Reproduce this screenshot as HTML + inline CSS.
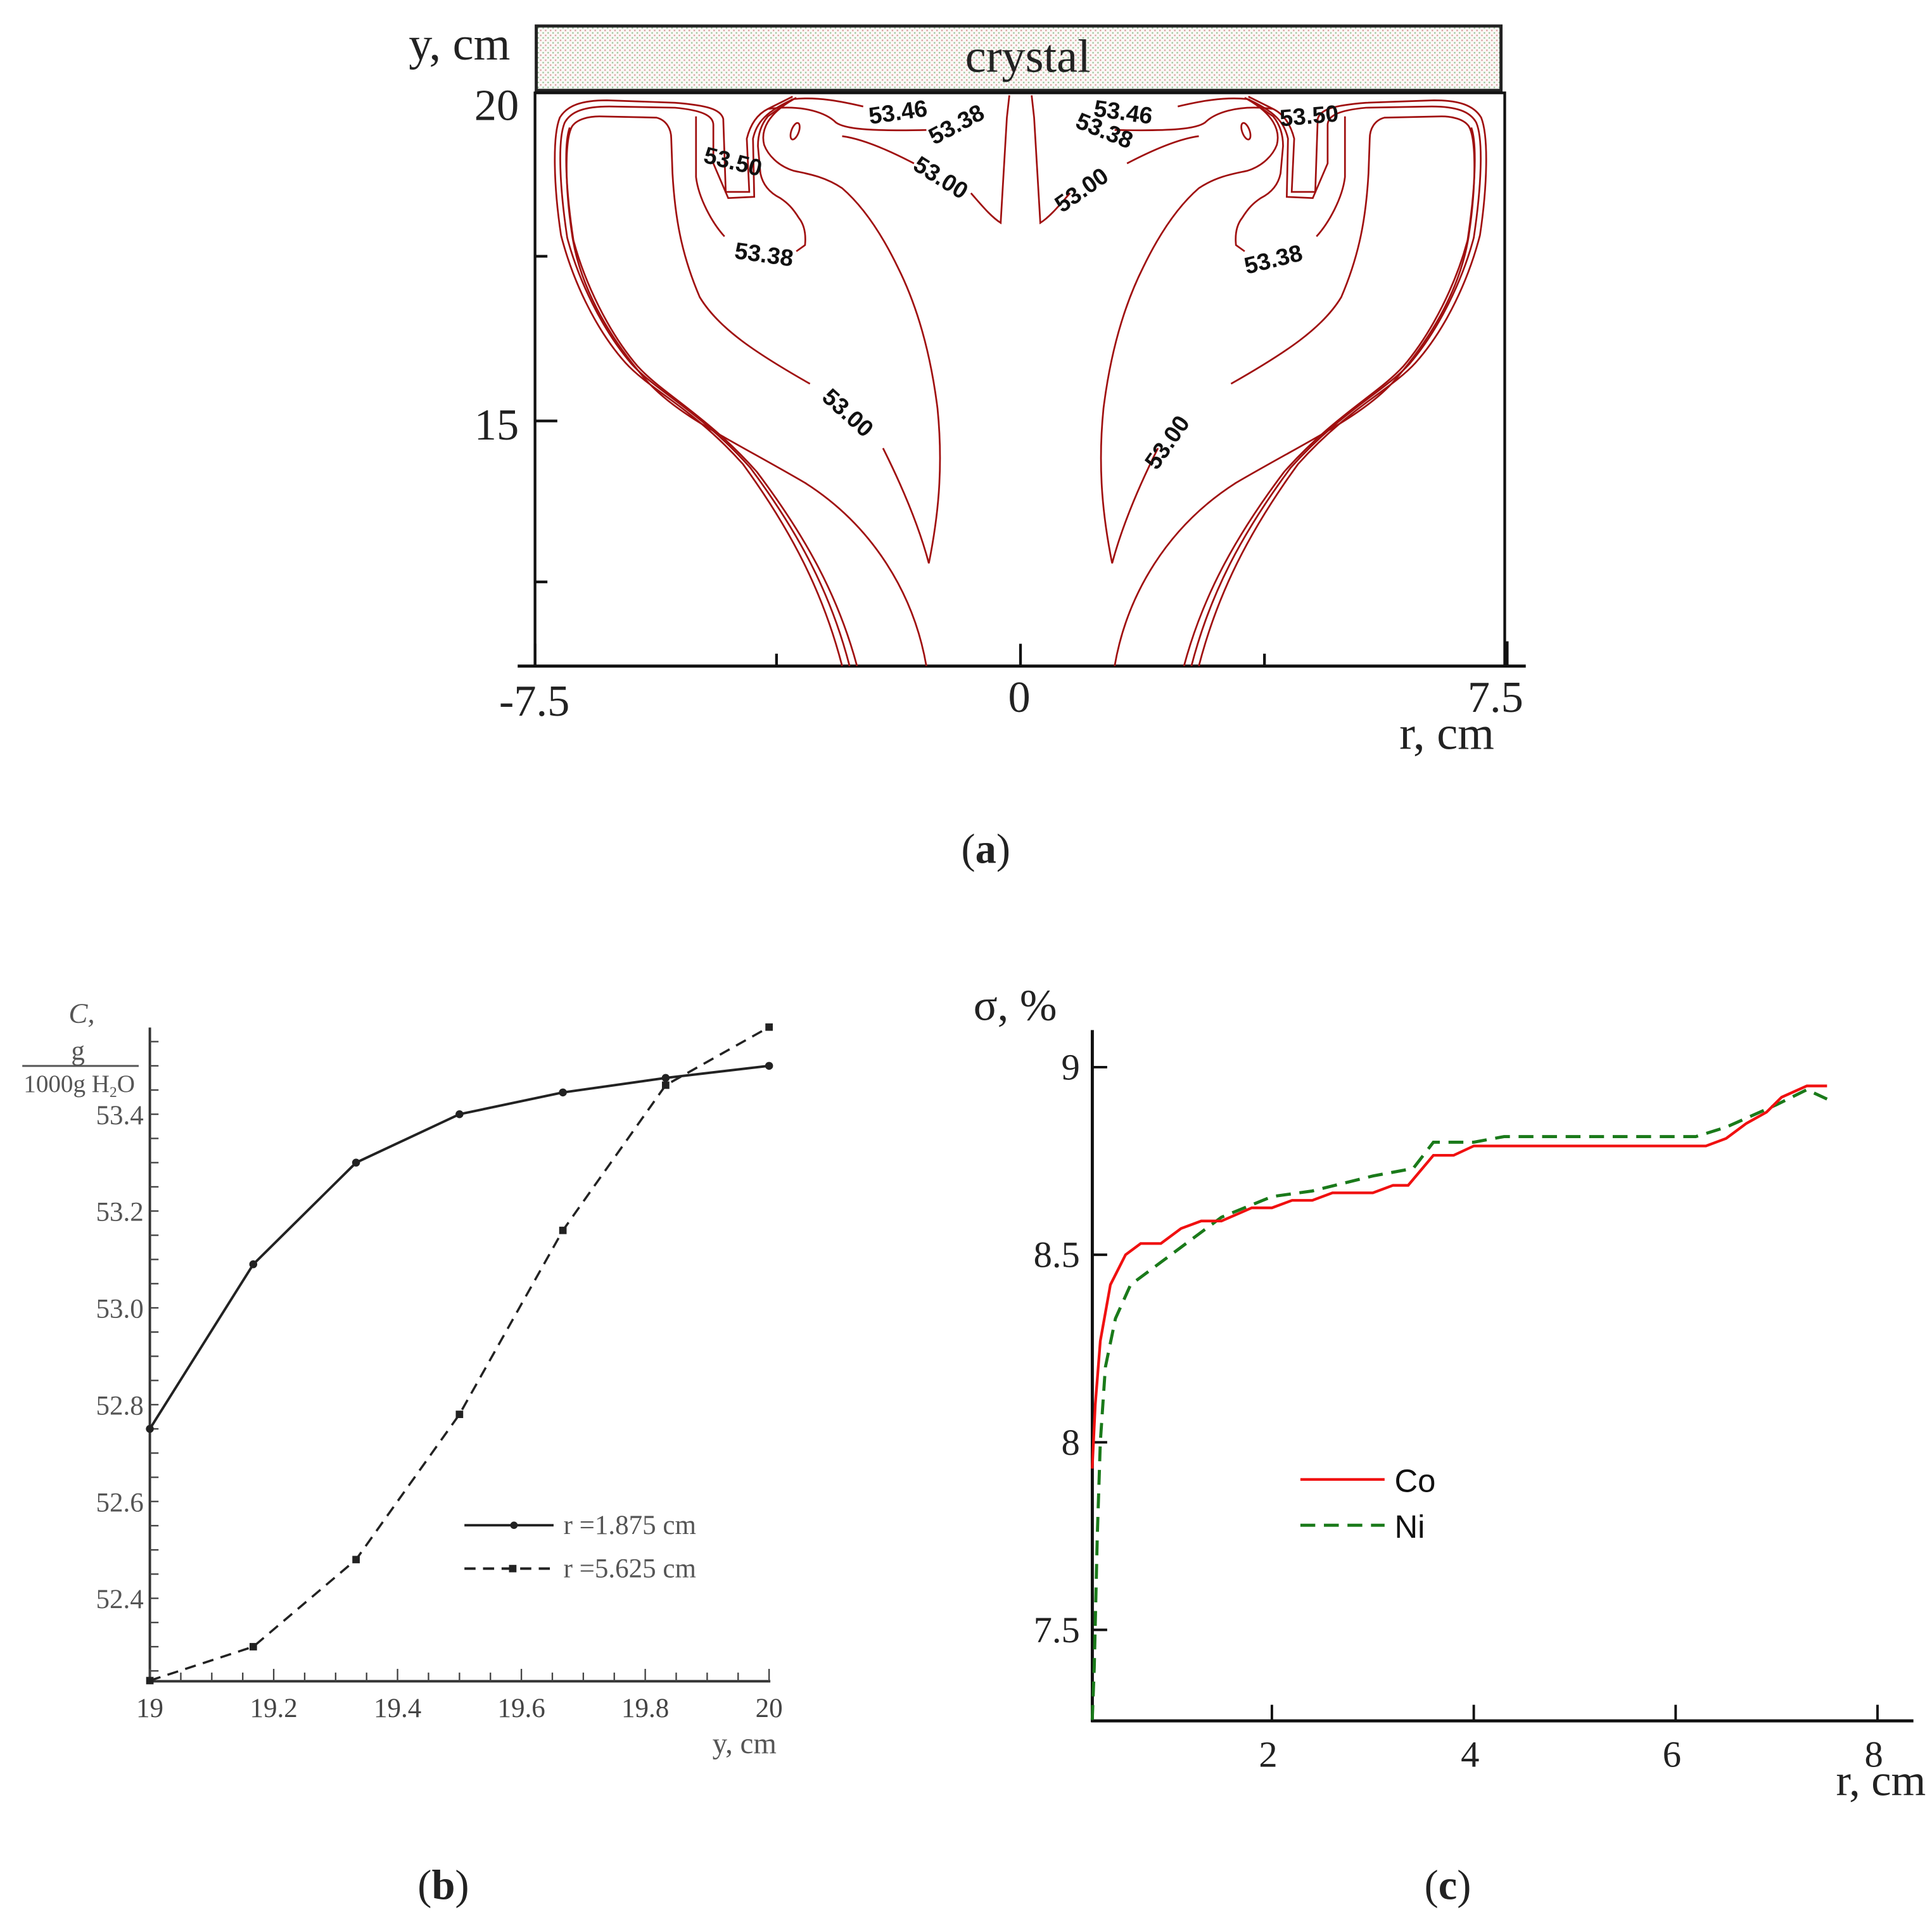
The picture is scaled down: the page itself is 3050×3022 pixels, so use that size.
<!DOCTYPE html>
<html><head><meta charset="utf-8"><style>
html,body{margin:0;padding:0;background:#fff;}
svg{display:block;}
.ser{font-family:"Liberation Serif",serif;}
.san{font-family:"Liberation Sans",sans-serif;}
.ct{fill:none;stroke:#a01010;stroke-width:1.4;}
.lbl{font-family:"Liberation Sans",sans-serif;font-size:19px;font-weight:bold;fill:#111;}
</style></head><body>
<svg id="fig" xmlns="http://www.w3.org/2000/svg" width="3050" height="3022" viewBox="0 0 1560 1546" preserveAspectRatio="none">
<defs>
<pattern id="dots" width="4" height="4" patternUnits="userSpaceOnUse">
<rect width="4" height="4" fill="#fbf8f6"/>
<rect x="0" y="0" width="1.2" height="1.2" fill="#d9a0a0"/>
<rect x="2" y="2" width="1.2" height="1.2" fill="#9cc79c"/>
</pattern>
</defs>

<!-- Panel a -->
<g>
<rect x="433" y="21" width="779" height="52" fill="url(#dots)" stroke="#222" stroke-width="2.5"/>
<text x="830" y="58" class="ser" font-size="38" text-anchor="middle" fill="#222">crystal</text>
<rect x="432" y="75" width="783" height="463" fill="none" stroke="#111" stroke-width="2.2"/>
<line x1="418" y1="538" x2="1232" y2="538" stroke="#111" stroke-width="2.5"/>
<g stroke="#111" stroke-width="2.2">
<line x1="432" y1="520" x2="432" y2="538"/><line x1="627" y1="528" x2="627" y2="538"/>
<line x1="824" y1="520" x2="824" y2="538"/><line x1="1021" y1="528" x2="1021" y2="538"/>
<line x1="1217" y1="518" x2="1217" y2="538"/>
<line x1="432" y1="340" x2="450" y2="340"/><line x1="432" y1="207" x2="442" y2="207"/><line x1="432" y1="470" x2="442" y2="470"/>
</g>
<text x="330" y="48" class="ser" font-size="38" fill="#222">y, cm</text>
<text x="383" y="97" class="ser" font-size="36" fill="#222">20</text>
<text x="383" y="355" class="ser" font-size="36" fill="#222">15</text>
<text x="403" y="578" class="ser" font-size="36" fill="#222">-7.5</text>
<text x="814" y="575" class="ser" font-size="36" fill="#222">0</text>
<text x="1185" y="575" class="ser" font-size="36" fill="#222">7.5</text>
<text x="1130" y="605" class="ser" font-size="38" fill="#222">r, cm</text>

<g id="cl">
<path class="ct" d="M680,538 C665,480 640,430 600,375 C560,330 525,315 505,293 C480,265 462,225 453,190 C447,150 446,110 452,95 C458,85 470,81 490,81 L545,83 C570,85 582,88 584,96 L586,155 L605,155 L603,112 C606,100 612,92 620,88 L640,78"/>
<path class="ct" d="M686,538 C671,480 646,432 606,378 C566,333 530,316 510,294 C486,266 467,226 458,192 C452,152 450,113 456,99 C461,90 472,86 492,86 L545,87 C566,89 576,93 576,101 L576,132 L588,160 L609,159 L608,112 C611,99 618,90 643,79"/>
<path class="ct" d="M692,538 C677,482 651,434 611,381 C571,336 535,318 515,296 C491,268 472,228 463,194 C457,154 455,117 460,103"/>
<path class="ct" d="M748,538 C738,480 705,425 650,390 C590,355 545,335 520,305 C490,270 468,230 462,190 C456,150 456,112 462,102 C466,96 476,94 484,94 L530,95 C538,97 542,104 542,112 L543,140 C545,175 550,205 565,240 C580,265 610,285 654,310 M713,362 C728,392 742,425 750,455 C757,420 762,380 757,330 C752,290 742,250 725,216 C710,185 695,165 680,152 C665,142 650,140 641,138 C628,134 620,125 617,117 C614,105 620,92 641,80"/>
<path class="ct" d="M562,94 L562,143 C564,160 575,180 585,191 M643,203 L650,198 C651,188 649,181 645,176 C640,168 636,164 630,160 C622,156 616,150 614,140 L612,118 C612,108 615,100 620,94 L640,80"/>
<ellipse class="ct" cx="642" cy="106" rx="3" ry="7" transform="rotate(20 642 106)"/>
<path class="ct" d="M641,80 C660,78 680,82 697,86 M620,88 C650,84 668,92 675,99 C682,104 700,106 748,105 M680,110 C695,112 715,120 738,132 M784,156 C792,165 800,175 808,180 L813,95 L815,77"/>
</g>
<use href="#cl" transform="translate(1648,0) scale(-1,1)"/>

<g>
<text class="lbl" x="725" y="97" text-anchor="middle" transform="rotate(-8 725 90)">53.46</text>
<text class="lbl" x="772" y="107" text-anchor="middle" transform="rotate(-28 772 100)">53.38</text>
<text class="lbl" x="760" y="150" text-anchor="middle" transform="rotate(32 760 143)">53.00</text>
<text class="lbl" x="592" y="137" text-anchor="middle" transform="rotate(14 592 130)">53.50</text>
<text class="lbl" x="617" y="212" text-anchor="middle" transform="rotate(8 617 205)">53.38</text>
<text class="lbl" x="685" y="340" text-anchor="middle" transform="rotate(42 685 333)">53.00</text>
<text class="lbl" x="907" y="97" text-anchor="middle" transform="rotate(8 907 90)">53.46</text>
<text class="lbl" x="892" y="112" text-anchor="middle" transform="rotate(22 892 105)">53.38</text>
<text class="lbl" x="873" y="160" text-anchor="middle" transform="rotate(-35 873 153)">53.00</text>
<text class="lbl" x="1057" y="100" text-anchor="middle" transform="rotate(-5 1057 93)">53.50</text>
<text class="lbl" x="1028" y="216" text-anchor="middle" transform="rotate(-14 1028 209)">53.38</text>
<text class="lbl" x="942" y="364" text-anchor="middle" transform="rotate(-55 942 357)">53.00</text>
</g>
<text x="796" y="697" class="ser" font-size="34" text-anchor="middle" fill="#222">(<tspan font-weight="bold">a</tspan>)</text>
</g>

<!-- Panel b -->
<g id="pb">
<line x1="121" y1="830" x2="121" y2="1358" stroke="#333" stroke-width="2"/>
<line x1="121" y1="1358" x2="622" y2="1358" stroke="#333" stroke-width="2"/>
<text x="66" y="826" class="ser" font-size="23" font-style="italic" text-anchor="middle" fill="#555">C,</text>
<text x="63" y="856" class="ser" font-size="22" text-anchor="middle" fill="#555">g</text>
<line x1="18" y1="861" x2="112" y2="861" stroke="#555" stroke-width="1.5"/>
<text x="64" y="882" class="ser" font-size="20" text-anchor="middle" fill="#555">1000g H<tspan font-size="12" dy="4">2</tspan><tspan dy="-4">O</tspan></text>
<text x="627" y="1416" class="ser" font-size="24" text-anchor="end" fill="#555">y, cm</text>
<line x1="375" y1="1232" x2="447" y2="1232" stroke="#222" stroke-width="2"/>
<circle cx="415" cy="1232" r="3" fill="#222"/>
<text x="455" y="1239" class="ser" font-size="22" fill="#555">r =1.875 cm</text>
<line x1="375" y1="1267" x2="447" y2="1267" stroke="#222" stroke-width="2" stroke-dasharray="9,6"/>
<rect x="411" y="1264" width="6" height="6" fill="#222"/>
<text x="455" y="1274" class="ser" font-size="22" fill="#555">r =5.625 cm</text>
<text x="358" y="1534" class="ser" font-size="34" text-anchor="middle" fill="#222">(<tspan font-weight="bold">b</tspan>)</text>
</g>

<!-- Panel c -->
<g id="pc">
<line x1="882" y1="832" x2="882" y2="1391" stroke="#111" stroke-width="2.5"/>
<line x1="881" y1="1390" x2="1545" y2="1390" stroke="#111" stroke-width="2.5"/>
<text x="786" y="824" class="ser" font-size="36" fill="#222">σ, %</text>
<text x="1555" y="1450" class="ser" font-size="36" text-anchor="end" fill="#222">r, cm</text>
<line x1="1050" y1="1195" x2="1118" y2="1195" stroke="#f01010" stroke-width="2.2"/>
<text x="1126" y="1205" class="san" font-size="26" fill="#111">Co</text>
<line x1="1050" y1="1232" x2="1118" y2="1232" stroke="#1a7a1a" stroke-width="2.5" stroke-dasharray="12,7"/>
<text x="1126" y="1242" class="san" font-size="26" fill="#111">Ni</text>
<text x="1169" y="1534" class="ser" font-size="34" text-anchor="middle" fill="#222">(<tspan font-weight="bold">c</tspan>)</text>
</g>
</svg>
<script>
// ---- Panel b data ----
const bY = [19, 19.167, 19.333, 19.5, 19.667, 19.833, 20];
const bR1875 = [52.75, 53.09, 53.30, 53.40, 53.445, 53.475, 53.50];
const bR5625 = [52.23, 52.30, 52.48, 52.78, 53.16, 53.46, 53.58];
const bXTicks = [19, 19.2, 19.4, 19.6, 19.8, 20];
const bXTickLabels = ["19", "19.2", "19.4", "19.6", "19.8", "20"];
const bYTicks = [52.4, 52.6, 52.8, 53.0, 53.2, 53.4];
const bYTickLabels = ["52.4", "52.6", "52.8", "53.0", "53.2", "53.4"];
// ---- Panel c data ----
const cCoR = [0.22,0.25,0.3,0.4,0.55,0.7,0.9,1.1,1.3,1.5,1.8,2.0,2.2,2.4,2.6,3.0,3.2,3.35,3.6,3.8,4.0,6.3,6.5,6.7,6.9,7.05,7.3,7.5];
const cCoS = [7.93,8.1,8.27,8.42,8.5,8.53,8.53,8.57,8.59,8.59,8.625,8.625,8.645,8.645,8.665,8.665,8.685,8.685,8.765,8.765,8.79,8.79,8.81,8.85,8.88,8.92,8.95,8.95];
const cNiR = [0.22,0.24,0.27,0.3,0.35,0.45,0.6,0.9,1.2,1.5,2.0,2.4,3.0,3.4,3.6,4.0,4.3,6.2,6.5,7.0,7.3,7.5];
const cNiS = [7.26,7.4,7.75,8.0,8.2,8.33,8.42,8.48,8.54,8.6,8.655,8.67,8.71,8.73,8.8,8.8,8.815,8.815,8.84,8.9,8.94,8.915];
const cXTicks = [2, 4, 6, 8];
const cXTickLabels = ["2", "4", "6", "8"];
const cYTicks = [7.5, 8, 8.5, 9];
const cYTickLabels = ["7.5", "8", "8.5", "9"];

const NS = "http://www.w3.org/2000/svg";
function mk(tag, attrs, parent){const e=document.createElementNS(NS,tag);for(const k in attrs)e.setAttribute(k,attrs[k]);parent.appendChild(e);return e;}
const xb = v => 121 + (v - 19) * 500;
const yb = v => 900 - (v - 53.4) * 391;
const xc = r => 864 + r * 81.5;
const yc = s => 862 + (9 - s) * 303;

const pb = document.getElementById('pb');
for (let i = 0; i <= 20; i++) {
  const v = 19 + i * 0.05;
  const t = mk('line', {x1: xb(v), x2: xb(v), y1: 1358, y2: 1358 - (i % 4 === 0 ? 10 : 7), stroke: '#444', 'stroke-width': 1.2}, pb);
  
  
}
for (let i = 0; i <= 26; i++) {
  const v = 52.25 + i * 0.05;
  const t = mk('line', {x1: 121, x2: 128, y1: yb(v), y2: yb(v), stroke: '#444', 'stroke-width': 1.2}, pb);
  
  
}
bXTicks.forEach((v, i) => {
  const t = mk('text', {x: xb(v), y: 1387, 'text-anchor': 'middle', 'font-size': 22, fill: '#444', class: 'ser'}, pb);
  t.textContent = bXTickLabels[i];
  
  
});
bYTicks.forEach((v, i) => {
  const t = mk('text', {x: 116, y: yb(v) + 8, 'text-anchor': 'end', 'font-size': 22, fill: '#555', class: 'ser'}, pb);
  t.textContent = bYTickLabels[i];
  
  
});
const s1 = mk('polyline', {points: bY.map((y, i) => xb(y) + ',' + yb(bR1875[i])).join(' '), fill: 'none', stroke: '#222', 'stroke-width': 2}, pb);


const s2 = mk('polyline', {points: bY.map((y, i) => xb(y) + ',' + yb(bR5625[i])).join(' '), fill: 'none', stroke: '#222', 'stroke-width': 1.8, 'stroke-dasharray': '9,6'}, pb);


bY.forEach((y, i) => {
  const m = mk('circle', {cx: xb(y), cy: yb(bR1875[i]), r: 3.2, fill: '#222'}, pb);
  
  
  const q = mk('rect', {x: xb(y) - 3, y: yb(bR5625[i]) - 3, width: 6, height: 6, fill: '#222'}, pb);
  
  
});

const pc = document.getElementById('pc');
cXTicks.forEach((v, i) => {
  const t = mk('line', {x1: xc(v), x2: xc(v), y1: 1390, y2: 1377, stroke: '#111', 'stroke-width': 2}, pc);
  
  
  const l = mk('text', {x: xc(v) - 3, y: 1427, 'text-anchor': 'middle', 'font-size': 30, fill: '#222', class: 'ser'}, pc);
  l.textContent = cXTickLabels[i];
  
  
});
cYTicks.forEach((v, i) => {
  const t = mk('line', {x1: 882, x2: 894, y1: yc(v), y2: yc(v), stroke: '#111', 'stroke-width': 2}, pc);
  
  
  const l = mk('text', {x: 872, y: yc(v) + 10, 'text-anchor': 'end', 'font-size': 30, fill: '#222', class: 'ser'}, pc);
  l.textContent = cYTickLabels[i];
  
  
});
const ni = mk('polyline', {points: cNiR.map((r, i) => xc(r) + ',' + yc(cNiS[i])).join(' '), fill: 'none', stroke: '#1a7a1a', 'stroke-width': 2.5, 'stroke-dasharray': '12,7'}, pc);


const co = mk('polyline', {points: cCoR.map((r, i) => xc(r) + ',' + yc(cCoS[i])).join(' '), fill: 'none', stroke: '#f01010', 'stroke-width': 2.2}, pc);


</script>
</body></html>
